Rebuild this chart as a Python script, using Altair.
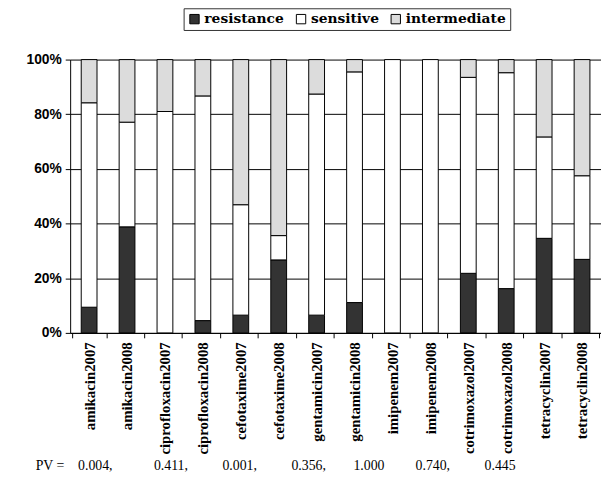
import altair as alt
import pandas as pd

categories = ["amikacin2007", "amikacin2008", "ciprofloxacin2007", "ciprofloxacin2008",
              "cefotaxime2007", "cefotaxime2008", "gentamicin2007", "gentamicin2008",
              "imipenem2007", "imipenem2008", "cotrimoxazol2007", "cotrimoxazol2008",
              "tetracyclin2007", "tetracyclin2008"]
resistance = [9.4, 38.8, 0.0, 4.5, 6.5, 26.7, 6.5, 11.1, 0.0, 0.0, 21.8, 16.2, 34.6, 26.9]
sensitive = [74.8, 38.3, 81.0, 82.2, 40.4, 8.9, 80.9, 84.4, 100.0, 100.0, 71.7, 79.0, 37.1, 30.6]
intermediate = [15.8, 22.9, 19.0, 13.3, 53.1, 64.4, 12.6, 4.5, 0.0, 0.0, 6.5, 4.8, 28.3, 42.5]
statuses = ["resistance", "sensitive", "intermediate"]
status_colors = ["#333333", "#ffffff", "#dcdcdc"]
pv_values = ["0.004,", "0.411,", "0.001,", "0.356,", "1.000", "0.740,", "0.445"]

rows = []
for i, c in enumerate(categories):
    for k, (s, vals) in enumerate(zip(statuses, [resistance, sensitive, intermediate])):
        if vals[i] > 0:
            rows.append({"category": c, "status": s, "value": vals[i], "order": k})
df = pd.DataFrame(rows)

nb = "\u00a0"
gaps = [12, 10, 10, 8, 9, 10]
pv_text = "PV =" + nb * 4 + pv_values[0]
for g, v in zip(gaps, pv_values[1:]):
    pv_text += nb * g + v

chart = alt.Chart(df).mark_bar(size=16, stroke="black", strokeWidth=1).encode(
    x=alt.X("category:N", sort=categories, title=None,
            axis=alt.Axis(labelAngle=270, labelAlign="right", labelBaseline="middle",
                          labelFont="Liberation Serif", labelFontWeight="bold", labelFontSize=15,
                          labelColor="black", labelPadding=4, tickBand="extent", tickSize=5,
                          tickColor="black", domainColor="black", grid=False)),
    y=alt.Y("value:Q", stack="normalize", title=None,
            scale=alt.Scale(domain=[0, 1], nice=False),
            axis=alt.Axis(format="%", values=[0, 0.2, 0.4, 0.6, 0.8, 1.0], grid=True,
                          gridColor="black", gridOpacity=1, domainColor="black",
                          tickColor="black", tickSize=5, labelPadding=4,
                          labelFont="Liberation Sans", labelFontWeight="bold",
                          labelFontSize=14, labelColor="black")),
    color=alt.Color("status:N", sort=statuses,
                    scale=alt.Scale(domain=statuses, range=status_colors),
                    legend=alt.Legend(title=None, orient="none", legendX=115, legendY=-52,
                                      direction="horizontal", strokeColor="#333333",
                                      fillColor="white", padding=4, symbolType="square",
                                      symbolSize=90, symbolStrokeColor="black",
                                      symbolStrokeWidth=1, labelFont="DejaVu Serif",
                                      labelFontWeight="bold", labelFontSize=14,
                                      labelColor="black", columnPadding=10, labelOffset=3)),
    order=alt.Order("order:Q"),
).properties(
    width=538, height=277,
    padding={"left": 63, "top": 49, "right": 0, "bottom": 160},
    autosize="none",
    title=alt.TitleParams(text=pv_text, orient="bottom", anchor="start", frame="group",
                          font="Liberation Serif", fontSize=14, fontWeight="normal",
                          color="black", dx=-35, offset=5),
).configure_view(strokeWidth=0)

chart.save("out.html", embed_options={"renderer": "svg", "actions": False})
